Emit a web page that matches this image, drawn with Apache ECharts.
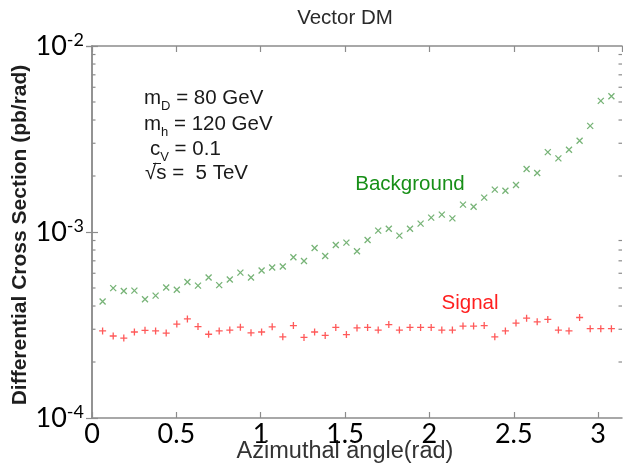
<!DOCTYPE html>
<html><head><meta charset="utf-8">
<script src="https://cdn.jsdelivr.net/npm/echarts@6/dist/echarts.min.js"></script>
<style>html,body{margin:0;padding:0;background:#fff}#c{width:623px;height:464px}</style>
</head><body><div id="c"></div>
<script>
// Azimuthal angle bin centres (rad)
const angles = [0.0628,0.1257,0.1885,0.2513,0.3142,0.3770,0.4398,0.5027,0.5655,0.6283,
  0.6912,0.7540,0.8168,0.8796,0.9425,1.0053,1.0681,1.1310,1.1938,1.2566,
  1.3195,1.3823,1.4451,1.5080,1.5708,1.6336,1.6965,1.7593,1.8221,1.8850,
  1.9478,2.0106,2.0735,2.1363,2.1991,2.2619,2.3248,2.3876,2.4504,2.5133,
  2.5761,2.6389,2.7018,2.7646,2.8274,2.8903,2.9531,3.0159,3.0788];
// Differential cross section (pb/rad)
const background = [0.000423,0.000499,0.000482,0.000484,0.000435,0.000455,0.000503,0.000489,0.000539,0.000515,
  0.000569,0.000518,0.000555,0.000605,0.000569,0.000621,0.000644,0.000652,0.000731,0.000699,
  0.000820,0.000743,0.000851,0.000877,0.000788,0.000906,0.001017,0.001042,0.000956,0.001042,
  0.001109,0.001195,0.001240,0.001184,0.001403,0.001368,0.001530,0.001689,0.001667,0.001788,
  0.002179,0.002074,0.002689,0.002487,0.002769,0.003095,0.003720,0.005070,0.005370];
const signal = [0.000294,0.000276,0.000269,0.000290,0.000296,0.000294,0.000286,0.000320,0.000341,0.000310,
  0.000282,0.000294,0.000297,0.000308,0.000287,0.000290,0.000309,0.000273,0.000314,0.000271,
  0.000290,0.000278,0.000307,0.000281,0.000305,0.000307,0.000297,0.000318,0.000297,0.000307,
  0.000307,0.000307,0.000297,0.000297,0.000312,0.000312,0.000314,0.000273,0.000294,0.000324,
  0.000344,0.000329,0.000339,0.000297,0.000294,0.000347,0.000302,0.000302,0.000302];
const xTickLabels = [0,0.5,1,1.5,2,2.5,3];
const yMinorTicks = [0.0002,0.0003,0.0004,0.0005,0.0006,0.0007,0.0008,0.0009,
  0.002,0.003,0.004,0.005,0.006,0.007,0.008,0.009];

const chart = echarts.init(document.getElementById('c'), null, {renderer:'canvas'});
const AX = '#8c8c8c';
const X_MAX = Math.PI;
const axisLine = {show:true, lineStyle:{color:AX, width:1.5}};
const xBase = {type:'value', min:0, max:X_MAX, interval:0.5, splitLine:{show:false},
  axisLine: axisLine, axisTick:{show:true, inside:true, length:6, lineStyle:{color:AX, width:1.2}}};
const yBase = {type:'log', logBase:10, min:0.0001, max:0.01, splitLine:{show:false}, minorTick:{show:false}};
const matlabFont = '"Liberation Sans", Arial, sans-serif';
const annRich = {
  m:{fontFamily:matlabFont, fontSize:20.5, lineHeight:24, verticalAlign:'top', fill:'#1a1a1a', color:'#1a1a1a'},
  s:{fontFamily:matlabFont, fontSize:13, lineHeight:25, verticalAlign:'bottom', fill:'#1a1a1a', color:'#1a1a1a'}
};
function ann(text, x, yc){
  return {type:'text', x:x, y:yc-12, silent:true,
    style:{text:text, rich:annRich, textAlign:'left', textVerticalAlign:'top', fill:'#1a1a1a',
      font:'20.5px ' + matlabFont}};
}
const option = {
  animation:false,
  backgroundColor:'#ffffff',
  grid:{left:92, top:46, right:1, bottom:46, containLabel:false},
  xAxis:[
    Object.assign({}, xBase, {position:'bottom',
      axisLabel:{show:true, showMaxLabel:false, fontFamily:'Lato', fontSize:27, color:'#000', margin:3,
        formatter:(v)=> xTickLabels.indexOf(v) >= 0 ? String(v) : ''}}),
    Object.assign({}, xBase, {position:'top', axisLabel:{show:false}})
  ],
  yAxis:[
    Object.assign({}, yBase, {position:'left', axisLine:axisLine,
      axisTick:{show:true, inside:true, length:6, lineStyle:{color:AX, width:1.2}},
      axisLabel:{show:true, margin:8,
        formatter:(v)=> '{b|10}{s|' + Math.round(Math.log10(v)) + '}',
        rich:{
          b:{fontFamily:'Lato', fontSize:27, lineHeight:30, verticalAlign:'middle', color:'#000'},
          s:{fontFamily:'Lato', fontSize:18, lineHeight:16, verticalAlign:'top', color:'#000'}
        }}}),
    Object.assign({}, yBase, {position:'right', axisLine:axisLine, axisLabel:{show:false},
      axisTick:{show:true, inside:true, length:6, lineStyle:{color:AX, width:1.2}}})
  ],
  series:[
    {name:'minorTicks', type:'custom', xAxisIndex:0, yAxisIndex:0, silent:true, clip:false, z:1,
      data: yMinorTicks.map(v => [0, v]),
      renderItem:(params, api) => {
        const v = api.value(1);
        const pL = api.coord([0, v]);
        const pR = api.coord([X_MAX, v]);
        const st = {stroke:AX, lineWidth:1.2};
        return {type:'group', children:[
          {type:'line', shape:{x1:pL[0], y1:pL[1], x2:pL[0]+3.5, y2:pL[1]}, style:st},
          {type:'line', shape:{x1:pR[0]-3.5, y1:pR[1], x2:pR[0], y2:pR[1]}, style:st}
        ]};
      }},
    {name:'Background', type:'scatter', xAxisIndex:0, yAxisIndex:0,
      data: angles.map((a,i)=>[a, background[i]]),
      symbol:'path://M0,0L10,10M10,0L0,10', symbolSize:[6,6],
      itemStyle:{color:'rgba(0,0,0,0)', borderColor:'#55a055', borderWidth:1.3}},
    {name:'Signal', type:'scatter', xAxisIndex:0, yAxisIndex:0,
      data: angles.map((a,i)=>[a, signal[i]]),
      symbol:'path://M5,0L5,10M0,5L10,5', symbolSize:[7,7],
      itemStyle:{color:'rgba(0,0,0,0)', borderColor:'#ff3030', borderWidth:1.3}}
  ],
  graphic:[
    {type:'text', x:345, y:18, silent:true,
      style:{text:'Vector DM', font:'20.5px ' + matlabFont, fill:'#2a2a2a', textAlign:'center', textVerticalAlign:'middle'}},
    {type:'text', x:345, y:452, silent:true,
      style:{text:'Azimuthal angle(rad)', font:'23.5px ' + matlabFont, fill:'#333', textAlign:'center', textVerticalAlign:'middle'}},
    {type:'text', x:20, y:235, rotation:Math.PI/2, silent:true,
      style:{text:'Differential Cross Section (pb/rad)', font:'bold 21px ' + matlabFont, fill:'#1e1e1e', textAlign:'center', textVerticalAlign:'middle'}},
    ann('{m|m}{s|D}{m| = 80 GeV}', 144, 100),
    ann('{m|m}{s|h}{m| = 120 GeV}', 144, 126),
    ann('{m|c}{s|V}{m| = 0.1}', 150, 151),
    ann('{m|\u221As =  5 TeV}', 145, 175),
    {type:'line', silent:true, shape:{x1:153, y1:163.5, x2:161, y2:163.5}, style:{stroke:'#1a1a1a', lineWidth:1}},
    {type:'text', x:410, y:184, silent:true,
      style:{text:'Background', font:'20.5px ' + matlabFont, fill:'#178f17', textAlign:'center', textVerticalAlign:'middle'}},
    {type:'text', x:470, y:303, silent:true,
      style:{text:'Signal', font:'20.5px ' + matlabFont, fill:'#ff1f1f', textAlign:'center', textVerticalAlign:'middle'}}
  ]
};
chart.setOption(option);
</script></body></html>
